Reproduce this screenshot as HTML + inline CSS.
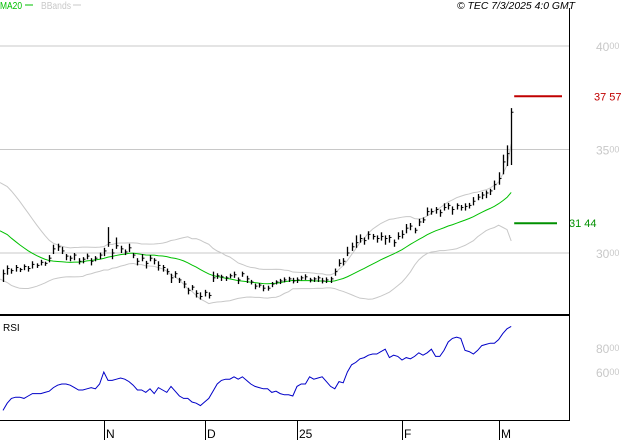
<!DOCTYPE html>
<html><head><meta charset="utf-8"><style>
html,body{margin:0;padding:0;background:#fff;}
svg{display:block;font-family:"Liberation Sans",sans-serif;}
</style></head><body>
<svg id="chart" width="627" height="440" viewBox="0 0 627 440" xmlns="http://www.w3.org/2000/svg">
<g id="grid"></g>
<g id="bands"></g>
<g id="bars"></g>
<g id="rsi"></g>
<g id="axes"></g>
<text x="0" y="9" font-size="10" fill="#00c000" textLength="22" lengthAdjust="spacingAndGlyphs">MA20</text>
<line x1="25" y1="5" x2="33" y2="5" stroke="#00c000"/>
<text x="41" y="9" font-size="10" fill="#c8c8c8" textLength="30" lengthAdjust="spacingAndGlyphs">BBands</text>
<line x1="73" y1="5" x2="81" y2="5" stroke="#c8c8c8"/>
<text x="457" y="9" font-size="10" font-style="italic" fill="#000" textLength="118" lengthAdjust="spacingAndGlyphs">© TEC 7/3/2025 4:0 GMT</text>
<text x="3" y="331" font-size="10" fill="#000">RSI</text>
</svg>
<script>
const histCloses=[3280,3270,3255,3240,3225,3205,3185,3165,3140,3120,3100,3080,3060,3040,3015,2995,2975,2955,2935];
const closes=[2900,2925,2915,2930,2920,2935,2925,2945,2940,2955,2950,2975,
3020,3030,3010,
2985,2975,2990,2960,2970,2985,2960,2975,2990,
3010,3050,3000,3035,
3020,3005,3025,2990,
2960,2975,2950,2975,2965,2940,
2930,2910,2880,2900,2870,2850,
2820,2835,2805,2790,2810,2795,
2880,2890,2885,2880,2890,2895,
2870,2900,2875,2860,2840,2845,2830,
2830,2850,2860,2865,2870,2875,2865,2870,
2880,2885,2870,2875,2880,2865,2870,2875,
2910,2950,2960,3000,3030,
3050,3070,3060,3090,3080,3070,
3080,3070,3075,3050,3080,3090,
3120,3130,3110,3150,3160,
3200,3200,3210,3195,
3220,3230,3210,3230,3220,3225,3230,
3250,3270,3280,3290,3300,3330,
3360,3440,3480,3680];
const upRange=[20,15,10,12,8,10,12,15,10,12,8,15,20,15,20,10,12,10,15,10,12,15,10,12,15,75,20,40,15,12,20,10,15,20,12,15,10,20,12,15,20,12,10,15,12,10,15,20,12,15,30,12,10,8,10,15,12,10,15,10,12,10,15,12,10,8,10,12,10,15,12,10,12,10,8,10,15,12,10,15,20,15,30,20,35,20,15,15,12,15,20,15,12,15,20,20,20,15,12,15,12,20,15,12,15,20,12,15,10,12,15,12,20,15,15,12,10,20,30,35,40,20];
const dnRange=[40,30,15,20,12,18,15,20,12,15,12,20,25,20,15,20,15,25,15,20,15,20,15,20,25,20,30,15,20,15,20,15,20,15,25,15,20,25,20,15,25,20,15,20,20,15,20,15,20,15,20,15,20,15,12,15,20,15,20,12,15,12,15,12,15,12,15,12,15,12,15,12,15,12,15,20,12,15,20,20,15,20,15,20,25,20,20,25,15,20,20,30,25,20,15,20,25,20,15,20,15,20,15,20,20,15,20,25,20,15,20,15,20,15,20,25,20,25,30,60,60,255];
const rsiVals=[28,34,38,39,39,38,40,42,42,42,43,44,
47,49,50,50,49,47,45,45,46,47,46,50,
60,53,53,54,55,54,52,49,
45,45,43,46,42,47,45,43,48,44,40,38,
38,35,34,32,35,38,44,50,53,54,54,56,
54,56,53,50,48,47,46,
46,43,44,42,41,41,40,48,
50,50,56,54,55,56,52,48,
46,52,51,60,66,
68,71,72,74,75,75,
77,79,72,74,73,70,
72,71,73,76,74,
76,79,73,73,
78,85,88,89,88,78,77,
75,78,82,83,84,84,
87,92,96,98];
const priceTicks=[3000,3500,4000];
const rsiTicks=[60,80];
const monthLabels=["N","D","25","F","M"];
const monthIndex=[24,48,70,95,118];
const lastPrice=3757;
const maLevel=3144;

const NS="http://www.w3.org/2000/svg";
function mk(tag,attrs,parent){const e=document.createElementNS(NS,tag);for(const k in attrs)e.setAttribute(k,attrs[k]);parent.appendChild(e);return e;}
const xOf=i=>3+i*4.2;
const yP=v=>253-(v-3000)*0.207;
const yR=v=>348+(80-v)*1.2;

const grid=document.getElementById('grid');
priceTicks.forEach(t=>{
  const l=mk('line',{x1:0,x2:569,y1:yP(t),y2:yP(t),stroke:'#c8c8c8','stroke-width':1},grid);
  
  
  const s=String(t);
  const tx=mk('text',{x:596,y:yP(t)+5,'font-size':12,fill:'#c8c8c8'},grid);
  
  
  tx.innerHTML=s.slice(0,2)+'<tspan font-size="9" dy="-2">'+s.slice(2)+'</tspan>';
});

const all=histCloses.concat(closes);
const ma=[],ub=[],lb=[];
closes.forEach((c,i)=>{
  const w=all.slice(i,i+20);
  const m=w.reduce((a,b)=>a+b,0)/w.length;
  const sd=Math.sqrt(w.reduce((a,b)=>a+(b-m)*(b-m),0)/w.length);
  ma.push(m);ub.push(m+2*sd);lb.push(m-2*sd);
});
const bands=document.getElementById('bands');
function poly(arr,color,name){
  const p=mk('polyline',{points:arr.map((v,i)=>(i===0?0:xOf(i))+','+yP(v)).join(' '),fill:'none',stroke:color,'stroke-width':1},bands);
  
  
}
poly(ub,'#c8c8c8','upper-band');
poly(lb,'#c8c8c8','lower-band');
poly(ma,'#00c000','ma20-line');

const bars=document.getElementById('bars');
closes.forEach((c,i)=>{
  const x=Math.round(xOf(i))+0.5;
  const b=mk('line',{x1:x,x2:x,y1:yP(c+upRange[i]),y2:yP(c-dnRange[i]),stroke:'#000','stroke-width':1.3},bars);
  
  
  const t=mk('line',{x1:x,x2:x+2,y1:yP(c),y2:yP(c),stroke:'#000','stroke-width':1},bars);
  
  
});
const lx=xOf(closes.length-1);
const r1=mk('line',{x1:lx+3,x2:562,y1:yP(lastPrice),y2:yP(lastPrice),stroke:'#c00000','stroke-width':2},bars);


const r1t=mk('text',{x:594,y:yP(lastPrice)+4,'font-size':11,fill:'#c00000'},bars);


r1t.textContent=String(lastPrice).slice(0,2)+' '+String(lastPrice).slice(2);
const g1=mk('line',{x1:lx+3,x2:557,y1:yP(maLevel),y2:yP(maLevel),stroke:'#009000','stroke-width':2},bars);


const g1t=mk('text',{x:569,y:yP(maLevel)+4,'font-size':11,fill:'#009000'},bars);


g1t.textContent=String(maLevel).slice(0,2)+' '+String(maLevel).slice(2);

const rsi=document.getElementById('rsi');
const rl=mk('polyline',{points:rsiVals.map((v,i)=>xOf(i)+','+yR(v)).join(' '),fill:'none',stroke:'#0000c8','stroke-width':1},rsi);


rsiTicks.forEach(t=>{
  const s=String(t);
  const tx=mk('text',{x:596,y:yR(t)+5,'font-size':12,fill:'#c8c8c8'},rsi);
  
  
  tx.innerHTML=s+'<tspan font-size="9" dy="-2">00</tspan>';
});

const ax=document.getElementById('axes');
const a1=mk('line',{x1:569.5,x2:569.5,y1:8,y2:420,stroke:'#000','stroke-width':1},ax);


const a2=mk('line',{x1:0,x2:569,y1:315,y2:315,stroke:'#000','stroke-width':2},ax);


const a3=mk('line',{x1:0,x2:570,y1:420.5,y2:420.5,stroke:'#000','stroke-width':1},ax);


monthLabels.forEach((m,k)=>{
  const x=Math.round(xOf(monthIndex[k]))+0.5;
  const t=mk('line',{x1:x,x2:x,y1:420,y2:440,stroke:'#000','stroke-width':1},ax);
  
  
  const tx=mk('text',{x:x+1.5,y:438,'font-size':12,fill:'#000'},ax);
  
  
  tx.textContent=m;
});
</script>
</body></html>
